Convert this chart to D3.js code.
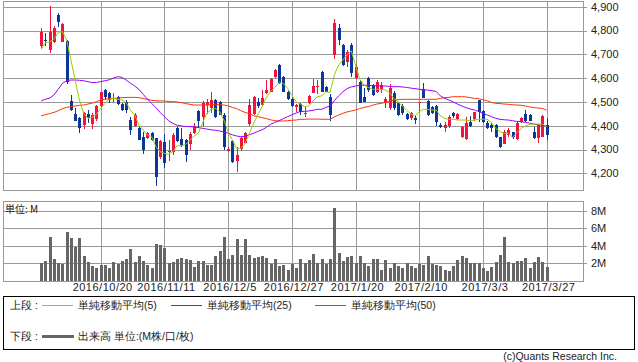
<!DOCTYPE html>
<html><head><meta charset="utf-8">
<script src="https://cdn.jsdelivr.net/npm/d3@7/dist/d3.min.js"></script>
<style>
body{margin:0;background:#fff;}
svg{display:block;}
text{font-family:"Liberation Sans",Arial,sans-serif;fill:#222;}
.jp{font-family:"Noto Sans CJK JP","Noto Sans",sans-serif;}
</style></head>
<body>
<svg id="c" width="638" height="362"></svg>
<script>
// ---- data ----
const tickIndex = [14, 29, 44, 59, 74, 89, 104, 119];
const tickLabels = ["2016/10/20","2016/11/11","2016/12/5","2016/12/27","2017/1/20","2017/2/10","2017/3/3","2017/3/27"];
const priceTicks = [4200,4300,4400,4500,4600,4700,4800,4900];
const volTicks = [2,4,6,8];

const open  = [4736,4761,4718,4753,4865,4753,4756,4504,4449,4434,4403,4448,4407,4428,4483,4550,4536,4514,4519,4491,4501,4424,4399,4389,4354,4350,4368,4347,4270,4333,4291,4291,4392,4343,4340,4323,4368,4462,4438,4487,4473,4508,4501,4445,4292,4337,4252,4301,4329,4407,4449,4501,4487,4539,4543,4603,4655,4606,4542,4511,4480,4491,4448,4494,4539,4561,4627,4561,4522,4697,4809,4739,4669,4739,4599,4585,4522,4599,4571,4543,4550,4494,4473,4539,4497,4483,4449,4431,4431,4497,4553,4505,4477,4483,4403,4389,4399,4452,4430,4354,4343,4417,4427,4508,4462,4413,4403,4403,4351,4323,4361,4372,4343,4417,4449,4445,4375,4347,4351,4403];
const high  = [4809,4788,4903,4819,4872,4830,4760,4529,4473,4436,4457,4466,4452,4487,4543,4556,4542,4536,4525,4495,4506,4438,4452,4393,4375,4372,4372,4347,4340,4364,4340,4368,4396,4389,4343,4375,4410,4466,4504,4511,4542,4511,4504,4452,4312,4340,4312,4351,4375,4511,4525,4515,4550,4592,4600,4640,4660,4610,4545,4515,4491,4494,4477,4530,4596,4592,4630,4565,4533,4847,4827,4742,4718,4746,4655,4592,4557,4605,4575,4592,4585,4522,4575,4545,4500,4490,4452,4459,4445,4501,4578,4508,4483,4487,4413,4417,4445,4459,4455,4400,4438,4441,4459,4508,4466,4421,4410,4406,4354,4382,4389,4375,4421,4435,4466,4448,4396,4403,4445,4431];
const low   = [4721,4735,4707,4749,4816,4750,4574,4463,4421,4371,4385,4410,4385,4421,4480,4508,4497,4494,4488,4462,4452,4361,4396,4340,4281,4345,4335,4148,4260,4224,4253,4277,4333,4312,4249,4298,4365,4389,4396,4449,4452,4431,4445,4298,4290,4245,4207,4295,4326,4399,4445,4473,4483,4532,4540,4600,4575,4540,4508,4480,4459,4445,4438,4490,4539,4533,4540,4540,4421,4679,4739,4652,4648,4606,4595,4494,4501,4540,4525,4536,4536,4473,4466,4466,4441,4445,4424,4424,4407,4459,4515,4441,4448,4399,4389,4375,4392,4434,4425,4350,4340,4396,4421,4417,4413,4385,4375,4347,4305,4323,4354,4343,4340,4413,4417,4418,4343,4326,4351,4340];
const close = [4795,4758,4792,4809,4837,4827,4585,4466,4421,4392,4455,4431,4445,4483,4540,4519,4508,4518,4491,4466,4466,4382,4445,4340,4298,4368,4340,4186,4337,4242,4295,4361,4337,4318,4277,4365,4399,4421,4494,4501,4508,4438,4445,4312,4301,4249,4277,4347,4368,4487,4522,4483,4518,4550,4595,4634,4578,4543,4511,4483,4486,4459,4455,4525,4567,4567,4543,4543,4445,4833,4760,4655,4711,4620,4648,4497,4501,4550,4529,4585,4571,4511,4557,4473,4445,4452,4427,4452,4424,4501,4515,4445,4452,4417,4396,4403,4438,4441,4449,4396,4413,4399,4459,4459,4417,4389,4389,4351,4309,4372,4382,4351,4413,4431,4421,4421,4347,4403,4441,4361];
const volume = [2.06,2.33,5.03,2.55,2.10,1.91,5.59,4.92,3.90,4.92,2.89,2.21,1.76,1.43,1.88,1.88,1.43,2.21,1.91,2.33,2.55,3.68,2.21,2.89,2.33,1.88,1.43,4.24,4.13,3.79,2.10,2.21,2.55,2.66,2.55,2.44,1.65,2.33,2.33,1.88,1.88,2.89,3.45,5.03,2.55,3.00,4.80,3.00,4.80,3.00,2.66,2.78,2.89,2.66,1.99,2.55,1.76,1.88,1.31,1.91,1.43,2.55,2.10,2.44,3.11,2.10,2.55,1.99,2.55,8.29,3.23,2.33,2.78,2.89,2.10,2.89,2.10,1.76,2.55,2.55,1.20,2.44,1.54,2.10,1.76,1.43,2.10,1.76,1.54,1.99,1.88,2.89,1.99,1.88,1.76,1.31,1.09,1.76,2.44,2.89,2.66,2.10,2.10,2.10,1.54,1.09,1.65,2.21,3.00,5.03,2.21,2.10,2.33,2.33,2.66,1.43,2.21,2.78,2.21,1.65];
const ma5  = [4721,4749,4753,4763,4792,4795,4760,4676,4592,4508,4452,4431,4435,4448,4473,4494,4511,4515,4511,4508,4497,4466,4445,4403,4382,4361,4354,4312,4291,4284,4280,4291,4316,4316,4322,4337,4357,4368,4413,4452,4469,4473,4459,4424,4375,4340,4305,4305,4326,4368,4410,4445,4480,4519,4543,4561,4581,4578,4557,4529,4501,4491,4480,4483,4504,4522,4525,4543,4539,4613,4655,4676,4697,4715,4655,4595,4571,4561,4553,4553,4553,4550,4539,4515,4501,4483,4466,4449,4441,4459,4469,4469,4466,4466,4441,4431,4427,4427,4424,4424,4424,4421,4424,4427,4427,4427,4413,4389,4375,4368,4368,4351,4371,4389,4399,4406,4407,4407,4407,4396];
const ma25 = [4505,4511,4516,4529,4553,4578,4589,4592,4592,4591,4589,4585,4581,4582,4585,4589,4593,4600,4606,4603,4592,4579,4567,4553,4532,4512,4494,4476,4456,4438,4421,4410,4402,4399,4397,4396,4395,4392,4389,4386,4383,4381,4378,4374,4369,4362,4357,4354,4355,4362,4369,4376,4383,4393,4406,4414,4421,4430,4438,4446,4453,4460,4460,4462,4465,4469,4469,4477,4483,4505,4525,4542,4556,4563,4567,4570,4570,4570,4568,4568,4567,4567,4565,4564,4564,4563,4561,4558,4556,4553,4550,4550,4547,4544,4525,4515,4508,4500,4491,4483,4476,4470,4466,4460,4452,4445,4438,4431,4427,4425,4424,4421,4418,4417,4414,4411,4407,4404,4402,4399];
const ma50 = [4442,4446,4451,4456,4463,4472,4477,4480,4483,4486,4487,4491,4495,4501,4508,4511,4514,4515,4516,4518,4519,4519,4519,4518,4514,4511,4507,4505,4504,4504,4502,4501,4500,4497,4493,4490,4487,4487,4487,4487,4488,4490,4488,4487,4483,4477,4472,4463,4456,4451,4442,4438,4434,4430,4425,4421,4420,4420,4421,4423,4424,4427,4427,4428,4428,4428,4427,4427,4427,4437,4445,4452,4458,4462,4466,4472,4477,4480,4486,4491,4494,4498,4502,4508,4509,4511,4511,4511,4511,4511,4511,4511,4511,4511,4515,4518,4519,4522,4522,4522,4521,4518,4515,4514,4509,4505,4498,4494,4493,4491,4490,4488,4487,4486,4483,4479,4476,4474,4473,4465];

// ---- layout ----
const L = 3, R = 583;
const P = {top: 1, bottom: 190};
const V = {top: 201, bottom: 281};
const gridC = "#999", upC = "#f0123f", dnC = "#0a3798";

const svg = d3.select("#c");
const x = d3.scaleLinear().domain([-8.99, 127.55]).range([L, R]);
const y = d3.scaleLinear().domain([4130, 4924]).range([P.bottom, P.top]);
const yv = d3.scaleLinear().domain([0, 9.14]).range([V.bottom, V.top]);
const px = v => Math.round(v) + 0.5;

function panel(top, bottom, scale, ticks, fmt) {
  const g = svg.append("g").attr("shape-rendering","crispEdges");
  ticks.forEach(t => {
    g.append("line").attr("x1", L).attr("x2", R + 4).attr("y1", px(scale(t))).attr("y2", px(scale(t)))
      .attr("stroke", gridC);
    svg.append("text").attr("x", 591).attr("y", scale(t)).attr("dy","0.35em")
      .attr("font-size", 11).text(fmt(t));
  });
  tickIndex.forEach(i => {
    g.append("line").attr("x1", px(x(i))).attr("x2", px(x(i))).attr("y1", top).attr("y2", bottom).attr("stroke", gridC);
  });
  g.append("rect").attr("x", L + 0.5).attr("y", top + 0.5).attr("width", R - L).attr("height", bottom - top)
    .attr("fill","none").attr("stroke", gridC);
}
panel(P.top, P.bottom, y, priceTicks, d3.format(","));
panel(V.top, V.bottom, yv, volTicks, d => d + "M");

// volume bars
svg.append("g").attr("shape-rendering","crispEdges").selectAll("rect").data(volume).join("rect")
  .attr("x", (d,i) => Math.round(x(i) - 1)).attr("width", 3)
  .attr("y", d => Math.round(yv(d))).attr("height", d => V.bottom - Math.round(yv(d)))
  .attr("fill", "#666");

// candles
const cg = svg.append("g").attr("shape-rendering","crispEdges");
open.forEach((o, i) => {
  const c = close[i], col = c >= o ? upC : dnC;
  const cx = Math.round(x(i));
  cg.append("line").attr("x1", cx + 0.5).attr("x2", cx + 0.5)
    .attr("y1", y(high[i])).attr("y2", y(low[i])).attr("stroke", col);
  const t = Math.round(y(Math.max(o, c))), b = Math.round(y(Math.min(o, c)));
  cg.append("rect").attr("x", cx - 1).attr("width", 3).attr("y", t).attr("height", Math.max(1, b - t)).attr("fill", col);
});

// moving averages
const line = d3.line().x((d,i) => x(i)).y(d => y(d));
[[ma50,"#ff3300"],[ma25,"#9900ff"],[ma5,"#99cc00"]].forEach(([arr,col]) => {
  svg.append("path").attr("d", line(arr)).attr("fill","none").attr("stroke", col).attr("stroke-width", 1);
});

// date labels
tickIndex.forEach((idx, k) => {
  svg.append("text").attr("x", x(idx) + 2).attr("y", 291).attr("text-anchor","middle")
    .attr("font-size", 11).attr("letter-spacing", 0.5).text(tickLabels[k]);
});

svg.append("text").attr("class","jp").attr("x", 5).attr("y", 213).attr("font-size", 10).text("単位: M");

// legend
svg.append("rect").attr("x", 3.5).attr("y", 296.5).attr("width", 631).attr("height", 53)
  .attr("fill","none").attr("stroke","#000").attr("shape-rendering","crispEdges");
const lg = svg.append("g").attr("class","jp").attr("font-size", 10.5);
lg.append("text").attr("x", 10).attr("y", 309).text("上段 :");
[[42,"#99cc00",78,"単純移動平均(5)"],[171,"#9900ff",207,"単純移動平均(25)"],[315,"#ff3300",351,"単純移動平均(50)"]]
  .forEach(([lx,col,tx,label]) => {
    svg.append("line").attr("x1", lx).attr("x2", lx + 31).attr("y1", 305.5).attr("y2", 305.5).attr("stroke", col)
      .attr("shape-rendering","crispEdges");
    lg.append("text").attr("x", tx).attr("y", 309).text(label);
  });
lg.append("text").attr("x", 10).attr("y", 340).text("下段 :");
svg.append("line").attr("x1", 42).attr("x2", 74).attr("y1", 336.5).attr("y2", 336.5).attr("stroke","#666").attr("stroke-width", 3);
lg.append("text").attr("x", 78).attr("y", 340).text("出来高 単位:(M株/口/枚)");

svg.append("text").attr("x", 617).attr("y", 360).attr("text-anchor","end").attr("font-size", 10.5)
  .attr("fill","#333").text("(c)Quants Research Inc.");
</script>
</body></html>
